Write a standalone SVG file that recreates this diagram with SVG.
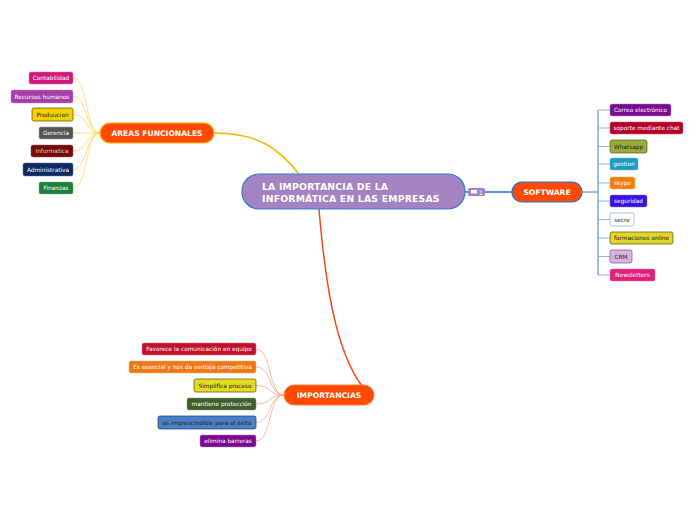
<svg xmlns="http://www.w3.org/2000/svg" width="696" height="520" viewBox="0 0 696 520">
<style>
.lbl{font-family:"DejaVu Sans",Verdana,sans-serif;font-size:5.8px;text-anchor:middle}
.w{fill:#fff}.d{fill:#222}
.main{font-family:"DejaVu Sans",Verdana,sans-serif;font-weight:bold;fill:#fff}
.c-sw{fill:none;stroke:#8fb5ec;stroke-width:1}
.c-af{fill:none;stroke:#ffd560;stroke-width:0.8}
.c-im{fill:none;stroke:#ffa58c;stroke-width:0.8}
</style>
<rect width="696" height="520" fill="#fff"/>
<g id="connectors">
<path d="M214,133 C260,133 280,150 299,174" fill="none" stroke="#f5b400" stroke-width="1.5"/>
<path d="M319,209 C325,280 335,350 362,386" fill="none" stroke="#f04a1a" stroke-width="1.5"/>
<path d="M465,192 L512,192" fill="none" stroke="#1f6fe0" stroke-width="1.5"/>
<path d="M582,192 L598,192 M598,110 L598,275" fill="none" stroke="#3a7fe0" stroke-width="1"/>
<path class="c-sw" d="M598,110H610M598,128H610M598,146.5H610M598,164H610M598,183H610M598,201H610M598,219.5H610M598,238H610M598,256.5H610M598,275H610"/>
<path class="c-af" d="M73,78 C88,78 85,133 100,133"/>
<path class="c-af" d="M73,96.5 C88,96.5 85,133 100,133"/>
<path class="c-af" d="M73,114.5 C88,114.5 85,133 100,133"/>
<path class="c-af" d="M73,133 C88,133 85,133 100,133"/>
<path class="c-af" d="M73,151 C88,151 85,133 100,133"/>
<path class="c-af" d="M73,169.5 C88,169.5 85,133 100,133"/>
<path class="c-af" d="M73,188 C88,188 85,133 100,133"/>
<path class="c-im" d="M256,349 C272,349 268,395 284,395"/>
<path class="c-im" d="M256,367 C272,367 268,395 284,395"/>
<path class="c-im" d="M256,385.5 C272,385.5 268,395 284,395"/>
<path class="c-im" d="M256,404 C272,404 268,395 284,395"/>
<path class="c-im" d="M256,422.5 C272,422.5 268,395 284,395"/>
<path class="c-im" d="M256,441 C272,441 268,395 284,395"/>
</g>
<g id="central">
<rect x="242" y="174" width="223" height="35" rx="17" fill="#a383c1" stroke="#2f7fd0" stroke-width="1.2"/>
<text class="main" x="262" y="190" font-size="9.3" letter-spacing="0.2">LA IMPORTANCIA DE LA</text>
<text class="main" x="262" y="201.5" font-size="9.3" letter-spacing="0.2">INFORMÁTICA EN LAS EMPRESAS</text>
</g>
<g id="comment">
<rect x="468" y="188" width="17" height="8" rx="1.5" fill="#a383c1"/>
<rect x="471" y="190" width="6" height="3.5" fill="#fff"/>
<text x="481" y="194.5" font-family="DejaVu Sans,sans-serif" font-size="6" fill="#fff" text-anchor="middle">1</text>
</g>
<g id="software">
<rect x="512" y="182" width="70" height="20" rx="10" fill="#ff4a00" stroke="#2a6fd0" stroke-width="1.2"/>
<text class="main" x="547" y="195" font-size="7.6" text-anchor="middle">SOFTWARE</text>
</g>
<g id="areas">
<rect x="100" y="123" width="114" height="20" rx="10" fill="#ff4a00" stroke="#f5b400" stroke-width="1.2"/>
<text class="main" x="157" y="136" font-size="7.6" text-anchor="middle">AREAS FUNCIONALES</text>
</g>
<g id="importancias">
<rect x="284" y="385" width="90" height="20" rx="10" fill="#ff4a00" stroke="#ff7a40" stroke-width="1"/>
<text class="main" x="329" y="398" font-size="7.6" text-anchor="middle">IMPORTANCIAS</text>
</g>
<g id="sw1"><rect x="610" y="104" width="61" height="12" rx="2" fill="#7a0a8f" stroke="#b07ac0" stroke-width="0.5"/><text class="lbl w" x="640.5" y="112">Correo electrónico</text></g>
<g id="sw2"><rect x="610" y="122" width="73" height="12" rx="2" fill="#b5002a" stroke="#d06070" stroke-width="0.5"/><text class="lbl w" x="646.5" y="130">soporte mediante chat</text></g>
<g id="sw3"><rect x="610" y="140" width="37" height="13" rx="2" fill="#9aab3b" stroke="#55601a" stroke-width="0.7"/><text class="lbl d" x="628.5" y="148.5">Whatsapp</text></g>
<g id="sw4"><rect x="610" y="158" width="28" height="12" rx="2" fill="#1a9bc4" stroke="#60c0e0" stroke-width="0.5"/><text class="lbl w" x="624" y="166">gestion</text></g>
<g id="sw5"><rect x="610" y="177" width="25" height="12" rx="2" fill="#f47c10" stroke="#f8b060" stroke-width="0.5"/><text class="lbl w" x="622.5" y="185">skype</text></g>
<g id="sw6"><rect x="610" y="195" width="37" height="12" rx="2" fill="#3a12e0" stroke="#8070f0" stroke-width="0.5"/><text class="lbl w" x="628.5" y="203">seguridad</text></g>
<g id="sw7"><rect x="610" y="213" width="24" height="13" rx="2" fill="#fff" stroke="#8fb5ec" stroke-width="0.8"/><text class="lbl d" x="622" y="221.5">secre</text></g>
<g id="sw8"><rect x="610" y="232" width="63" height="12" rx="2" fill="#e0d52a" stroke="#55501a" stroke-width="0.7"/><text class="lbl d" x="641.5" y="240">formaciones online</text></g>
<g id="sw9"><rect x="610" y="250" width="22" height="13" rx="2" fill="#d9b3e0" stroke="#8a4a9a" stroke-width="0.7"/><text class="lbl d" x="621" y="258.5">CRM</text></g>
<g id="sw10"><rect x="610" y="269" width="45" height="12" rx="2" fill="#e01f7a" stroke="#f070b0" stroke-width="0.5"/><text class="lbl w" x="632.5" y="277">Newsletters</text></g>
<g id="af1"><rect x="29" y="72" width="44" height="12" rx="2" fill="#d0197c" stroke="#e070b0" stroke-width="0.5"/><text class="lbl w" x="51" y="80">Contabilidad</text></g>
<g id="af2"><rect x="11" y="90" width="62" height="13" rx="2" fill="#a63ea9" stroke="#c080c8" stroke-width="0.5"/><text class="lbl w" x="42" y="98.5">Recursos humanos</text></g>
<g id="af3"><rect x="32" y="108" width="41" height="13" rx="2" fill="#f5d000" stroke="#554a00" stroke-width="0.7"/><text class="lbl d" x="52.5" y="116.5">Produucion</text></g>
<g id="af4"><rect x="39" y="127" width="34" height="12" rx="2" fill="#555555" stroke="#999" stroke-width="0.5"/><text class="lbl w" x="56" y="135">Gerencia</text></g>
<g id="af5"><rect x="31" y="145" width="42" height="12" rx="2" fill="#6e0d0d" stroke="#a05050" stroke-width="0.5"/><text class="lbl" x="52" y="153" fill="#f0c0c0">Informatica</text></g>
<g id="af6"><rect x="23" y="163" width="50" height="13" rx="2" fill="#0e2a5e" stroke="#5070a0" stroke-width="0.5"/><text class="lbl w" x="48" y="171.5">Administrativa</text></g>
<g id="af7"><rect x="39" y="182" width="34" height="12" rx="2" fill="#1c7f3a" stroke="#60b080" stroke-width="0.5"/><text class="lbl w" x="56" y="190">Finanzas</text></g>
<g id="im1"><rect x="142" y="343" width="114" height="12" rx="2" fill="#c0102a" stroke="#e07080" stroke-width="0.5"/><text class="lbl w" x="199" y="351">Favorece la comunicación en equipo</text></g>
<g id="im2"><rect x="129" y="361" width="127" height="12" rx="2" fill="#f07814" stroke="#f8b070" stroke-width="0.5"/><text class="lbl w" x="192.5" y="369">Es esencial y nos da ventaja competitiva</text></g>
<g id="im3"><rect x="194" y="379" width="62" height="13" rx="2" fill="#e4dc20" stroke="#555010" stroke-width="0.7"/><text class="lbl d" x="225" y="387.5">Simplifica proceso</text></g>
<g id="im4"><rect x="187" y="398" width="69" height="12" rx="2" fill="#3e5e2e" stroke="#80a070" stroke-width="0.5"/><text class="lbl w" x="221.5" y="406">mantiene protección</text></g>
<g id="im5"><rect x="158" y="416" width="98" height="13" rx="2" fill="#4a80c8" stroke="#1a3a70" stroke-width="0.7"/><text class="lbl d" x="207" y="424.5">es imprescindible para el éxito</text></g>
<g id="im6"><rect x="200" y="435" width="56" height="12" rx="2" fill="#7a0a8f" stroke="#b07ac0" stroke-width="0.5"/><text class="lbl w" x="228" y="443">elimina barreras</text></g>
</svg>
